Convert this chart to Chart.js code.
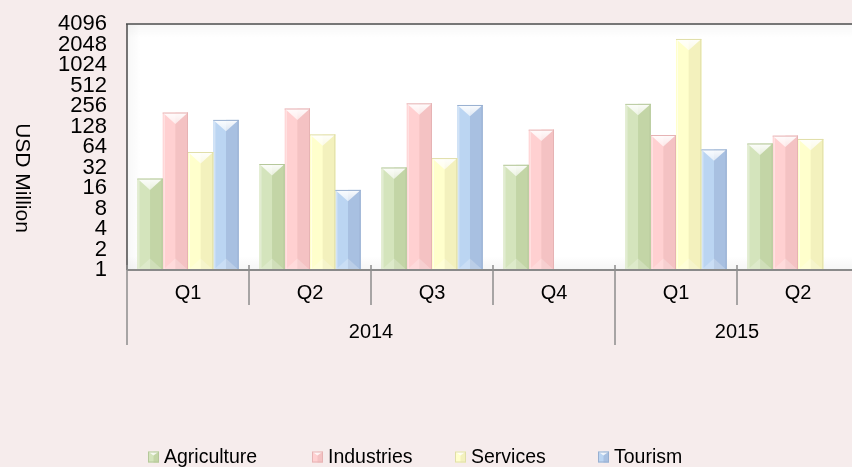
<!DOCTYPE html>
<html><head><meta charset="utf-8">
<script src="https://cdn.jsdelivr.net/npm/chart.js@4.4.1/dist/chart.umd.min.js"></script>
<style>
html,body{margin:0;padding:0;background:#F6ECEC;overflow:hidden;width:852px;height:467px;}
#wrap{position:absolute;left:0;top:0;width:870px;height:467px;}
</style></head><body>
<div id="wrap"><canvas id="c" width="870" height="467"></canvas></div>
<script>
// ---- data ----
const quarters = ['Q1','Q2','Q3','Q4','Q1','Q2'];
const years = ['2014','2015'];
const yearSpans = [4, 2];
const seriesNames = ['Agriculture','Industries','Services','Tourism'];
const agriculture = [22, 36, 32, 35, 275, 72];
const industries  = [205, 235, 280, 115, 96, 94];
const services    = [54, 98, 44, null, 2470, 84];
const tourism     = [160, 15, 265, null, 59, null];
const yTicks = [1,2,4,8,16,32,64,128,256,512,1024,2048,4096];
const yTitle = 'USD Million';

// ---- styles ----
const FONT = "'Liberation Sans', Arial, sans-serif";
const lightCols = ['#D4E4BC','#FFD0D1','#FFFFCC','#BBD5F2'];
const darkCols  = ['#C3D5A6','#F4C2C3','#F3F1BD','#A8C0E1'];
const edgeCols  = ['#B5C89A','#E6B3B4','#E0DEA8','#98AFD0'];
const BG = '#F6ECEC';
const legendX = [148, 312, 455, 598];

const seriesData = [agriculture, industries, services, tourism];

const decor = {
  id: 'decor',
  beforeDraw(chart) {
    const {ctx, chartArea: a} = chart;
    ctx.save();
    ctx.fillStyle = BG;
    ctx.fillRect(0, 0, chart.width, chart.height);
    ctx.fillStyle = '#FFFFFF';
    ctx.fillRect(a.left, a.top, a.right - a.left, a.bottom - a.top);
    let g = ctx.createLinearGradient(0, a.top, 0, a.top + 14);
    g.addColorStop(0, 'rgba(0,0,0,0.03)'); g.addColorStop(1, 'rgba(0,0,0,0)');
    ctx.fillStyle = g; ctx.fillRect(a.left, a.top, a.right - a.left, 14);
    g = ctx.createLinearGradient(0, a.bottom - 14, 0, a.bottom);
    g.addColorStop(0, 'rgba(0,0,0,0)'); g.addColorStop(1, 'rgba(0,0,0,0.04)');
    ctx.fillStyle = g; ctx.fillRect(a.left, a.bottom - 14, a.right - a.left, 14);
    g = ctx.createLinearGradient(a.left, 0, a.left + 14, 0);
    g.addColorStop(0, 'rgba(0,0,0,0.03)'); g.addColorStop(1, 'rgba(0,0,0,0)');
    ctx.fillStyle = g; ctx.fillRect(a.left, a.top, 14, a.bottom - a.top);
    ctx.restore();
  },
  afterDatasetsDraw(chart) {
    const {ctx, chartArea: a} = chart;
    ctx.save();
    chart.data.datasets.forEach((ds, di) => {
      const meta = chart.getDatasetMeta(di);
      meta.data.forEach((el, i) => {
        if (ds.data[i] == null) return;
        const p = el.getProps(['x','y','base','width'], true);
        const w = p.width, l = p.x - w/2, r = p.x + w/2, t = p.y, b = p.base;
        const h = b - t;
        ctx.fillStyle = darkCols[di];
        ctx.fillRect(p.x, t, w/2, h);
        const th = Math.min(w * 0.45, h / 2);
        ctx.beginPath();
        ctx.moveTo(l, b); ctx.lineTo(r, b); ctx.lineTo(p.x, b - th); ctx.closePath();
        ctx.fillStyle = 'rgba(255,255,255,0.22)';
        ctx.fill();
        ctx.beginPath();
        ctx.moveTo(l, t); ctx.lineTo(r, t); ctx.lineTo(p.x, t + th); ctx.closePath();
        const tg = ctx.createLinearGradient(0, t, 0, t + th);
        tg.addColorStop(0, 'rgba(255,255,255,0.95)');
        tg.addColorStop(1, 'rgba(255,255,255,0.6)');
        ctx.fillStyle = tg; ctx.fill();
        ctx.strokeStyle = edgeCols[di];
        ctx.lineWidth = 1;
        ctx.beginPath();
        ctx.moveTo(r - 0.5, t); ctx.lineTo(r - 0.5, b);
        ctx.moveTo(l, t + 0.5); ctx.lineTo(r, t + 0.5);
        ctx.stroke();
        ctx.strokeStyle = 'rgba(255,255,255,0.5)';
        ctx.beginPath();
        ctx.moveTo(l + 1.5, t + 1); ctx.lineTo(l + 1.5, b);
        ctx.stroke();
      });
    });
    ctx.strokeStyle = '#767676';
    ctx.lineWidth = 2;
    ctx.beginPath();
    ctx.moveTo(a.left - 1, a.top); ctx.lineTo(a.right, a.top);
    ctx.stroke();
    ctx.strokeStyle = '#4A4A4A';
    ctx.lineWidth = 1.5;
    ctx.beginPath();
    ctx.moveTo(a.left, a.top); ctx.lineTo(a.left, a.bottom);
    ctx.stroke();
    ctx.strokeStyle = '#8A8A8A';
    ctx.lineWidth = 2;
    ctx.beginPath();
    ctx.moveTo(a.left, a.bottom); ctx.lineTo(a.right, a.bottom);
    ctx.stroke();

    const xs = chart.scales.x;
    const half = (xs.getPixelForValue(1) - xs.getPixelForValue(0)) / 2;
    const groupBounds = [0];
    yearSpans.forEach(s => groupBounds.push(groupBounds[groupBounds.length - 1] + s));
    ctx.strokeStyle = '#8C8C8C';
    ctx.lineWidth = 1.5;
    for (let i = 0; i <= quarters.length; i++) {
      const xp = xs.getPixelForValue(0) - half + i * 2 * half;
      const isGroup = groupBounds.includes(i);
      ctx.beginPath();
      ctx.moveTo(xp, a.bottom - 5);
      ctx.lineTo(xp, isGroup ? a.bottom + 75 : a.bottom + 35);
      ctx.stroke();
    }
    ctx.fillStyle = '#000';
    ctx.font = '20px ' + FONT;
    ctx.textAlign = 'center';
    ctx.textBaseline = 'middle';
    years.forEach((yr, gi) => {
      const x0 = xs.getPixelForValue(0) - half + groupBounds[gi] * 2 * half;
      const x1 = xs.getPixelForValue(0) - half + groupBounds[gi + 1] * 2 * half;
      ctx.fillText(yr, (x0 + x1) / 2, a.bottom + 62);
    });
    ctx.save();
    ctx.translate(22, 178);
    ctx.rotate(Math.PI / 2);
    ctx.font = '21px ' + FONT;
    ctx.fillText(yTitle, 0, 0);
    ctx.restore();

    ctx.font = '19.5px ' + FONT;
    ctx.textAlign = 'left';
    const box = 11, gapBox = 5;
    const ly = 457;
    seriesNames.forEach((n, i) => {
      const bx = legendX[i], by = ly - 5.5;
      ctx.fillStyle = lightCols[i];
      ctx.fillRect(bx, by, box, box);
      ctx.fillStyle = darkCols[i];
      ctx.fillRect(bx + box/2, by, box/2, box);
      ctx.beginPath();
      ctx.moveTo(bx, by); ctx.lineTo(bx + box, by); ctx.lineTo(bx + box/2, by + 4); ctx.closePath();
      ctx.fillStyle = 'rgba(255,255,255,0.8)'; ctx.fill();
      ctx.strokeStyle = edgeCols[i]; ctx.lineWidth = 1;
      ctx.strokeRect(bx + 0.5, by + 0.5, box - 1, box - 1);
      ctx.fillStyle = '#000';
      ctx.fillText(n, bx + box + gapBox, ly + 1);
    });
    ctx.restore();
  }
};

new Chart(document.getElementById('c'), {
  type: 'bar',
  data: {
    labels: quarters,
    datasets: seriesNames.map((n, i) => ({
      label: n,
      data: seriesData[i],
      backgroundColor: lightCols[i],
      borderWidth: 0,
      barPercentage: 1,
      categoryPercentage: 0.83
    }))
  },
  options: {
    responsive: false,
    animation: false,
    devicePixelRatio: 1,
    layout: { padding: { left: 0, top: 24, right: 11, bottom: 122 } },
    plugins: { legend: { display: false }, tooltip: { enabled: false } },
    scales: {
      x: {
        type: 'category',
        afterFit: s => { s.height = 75; s.paddingLeft = 0; s.paddingRight = 0; },
        grid: { display: false, drawTicks: false },
        border: { display: false },
        ticks: { font: { size: 20, family: FONT }, color: '#000', padding: 11, maxRotation: 0, autoSkip: false }
      },
      y: {
        type: 'logarithmic',
        min: 1, max: 4096,
        afterBuildTicks: s => { s.ticks = yTicks.map(v => ({ value: v })); },
        afterFit: s => { s.width = 127; s.paddingTop = 0; s.paddingBottom = 0; },
        grid: { display: false, drawTicks: false },
        border: { display: false },
        ticks: { font: { size: 22, family: FONT }, color: '#000', padding: 20, autoSkip: false, callback: v => String(v) }
      }
    }
  },
  plugins: [decor]
});
</script>
</body></html>
